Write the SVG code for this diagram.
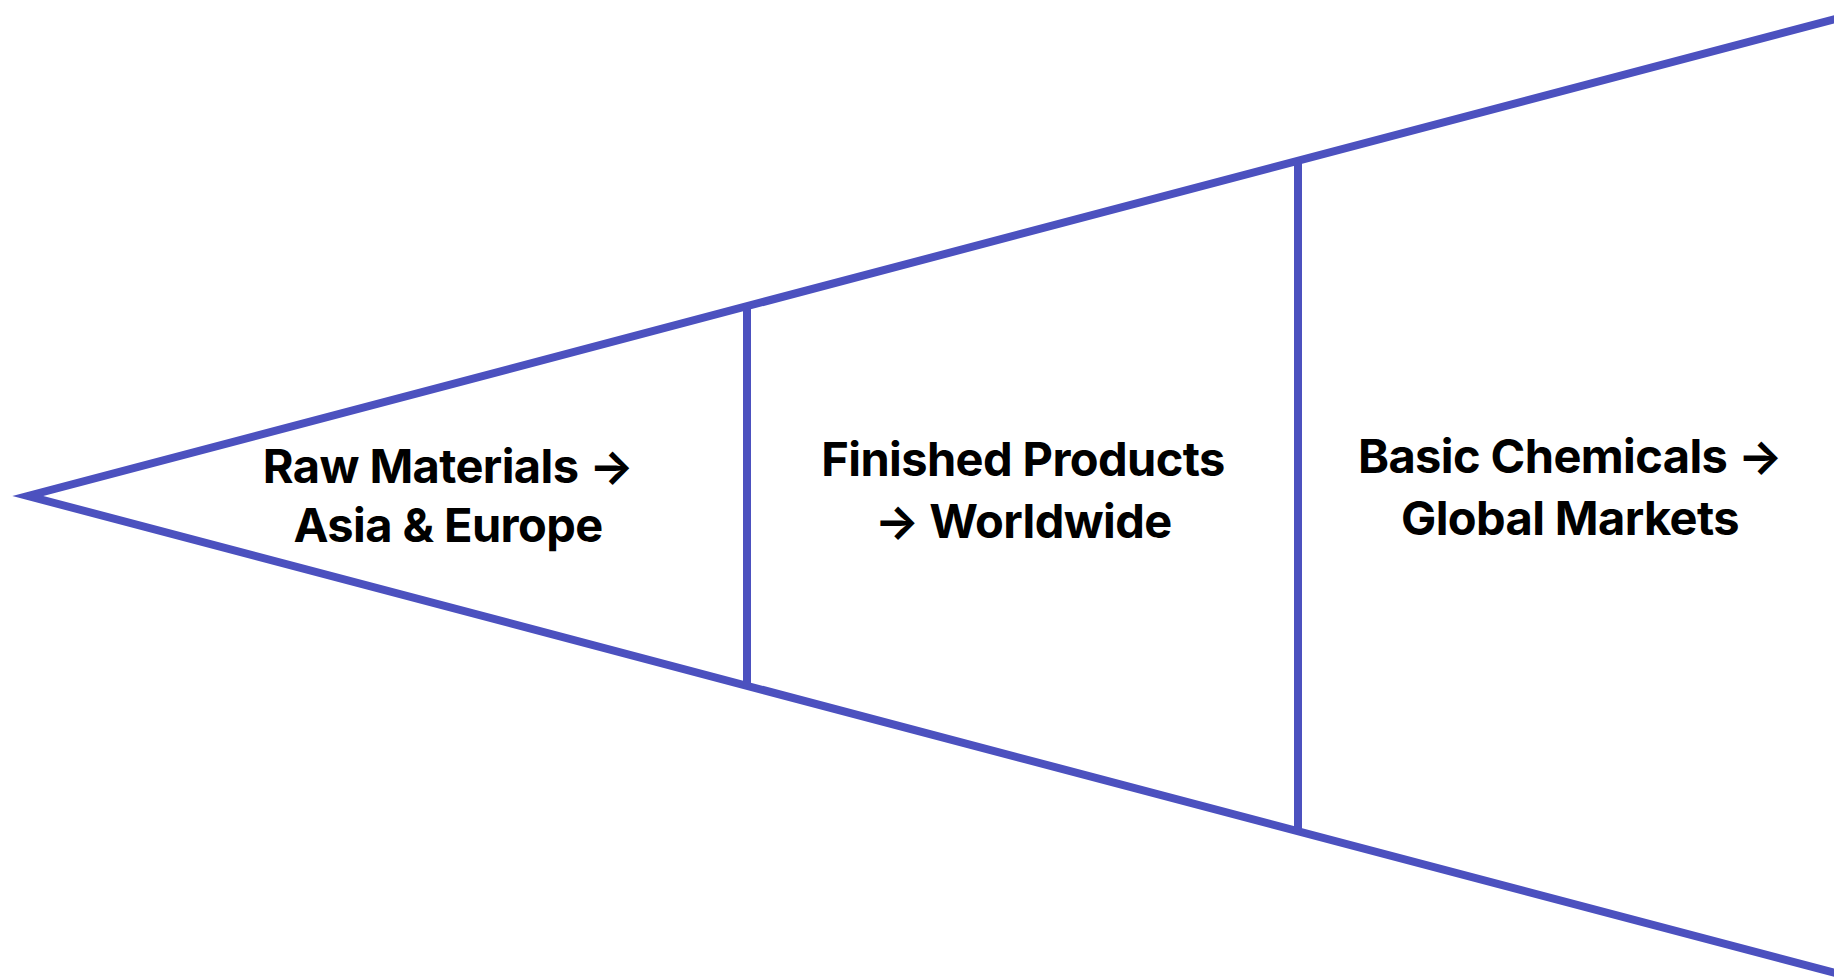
<svg xmlns="http://www.w3.org/2000/svg" width="1834" height="979" viewBox="0 0 1834 979">
<style>
.edge{fill:none;stroke:#4c51bf;stroke-width:8;stroke-linejoin:miter;stroke-miterlimit:10}
.lbl{font-family:Inter,"Noto Sans","Liberation Sans",sans-serif;font-weight:700;font-size:47px;fill:#000;text-anchor:middle;letter-spacing:-0.6px}
</style>
<rect width="1834" height="979" fill="#fff"/>
<g id="connectors">
<path class="edge" d="M1860,12.4 L28,496 L1860,979.6"/>
</g>
<g id="seg1">
<text class="lbl" x="448" y="483">Raw Materials →</text>
<text class="lbl" x="448" y="542">Asia &amp; Europe</text>
</g>
<g id="seg2">
<line class="edge" x1="747" y1="306" x2="747" y2="686"/>
<text class="lbl" x="1023" y="476">Finished Products</text>
<text class="lbl" x="1023" y="538">→ Worldwide</text>
</g>
<g id="seg3">
<line class="edge" x1="1298" y1="160.5" x2="1298" y2="831.5"/>
<text class="lbl" x="1570" y="473">Basic Chemicals →</text>
<text class="lbl" x="1570" y="535">Global Markets</text>
</g>
</svg>
